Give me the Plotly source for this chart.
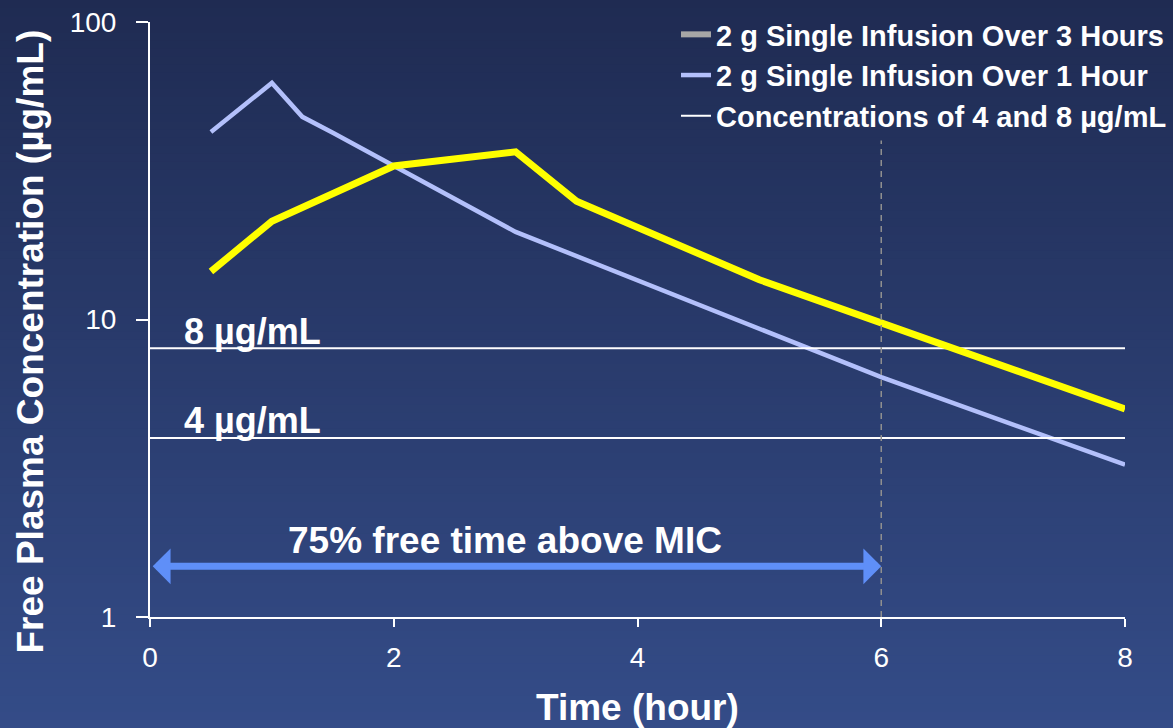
import math
import plotly.graph_objects as go

# Concentration-time profiles (hours, µg/mL)
time_3h = [0.5, 1.0, 2.0, 3.0, 3.5, 5.0, 8.0]
conc_3h = [14.5, 21.4, 32.8, 36.6, 25.0, 13.6, 5.0]

time_1h = [0.5, 1.0, 1.25, 1.5, 3.0, 6.0, 8.0]
conc_1h = [42.7, 62.4, 48.0, 42.4, 19.7, 6.4, 3.25]

# MIC reference levels
mic_levels = [8, 4]
mic_labels = ["8 µg/mL", "4 µg/mL"]
mic_span = [0, 8]

# Time above MIC marker
ft_mic_time = 6.0
ft_mic_top = 40
arrow_level = 1.48
arrow_start = 0.01
arrow_label = "75% free time above MIC"

x_ticks = [0, 2, 4, 6, 8]
y_ticks = [1, 10, 100]

FONT = "Liberation Sans, Arial, sans-serif"
WHITE = "#ffffff"

fig = go.Figure()

# legend proxy for the 3-hour infusion (grey swatch)
fig.add_trace(go.Scatter(
    x=[None], y=[None], mode="lines", name="2 g Single Infusion Over 3 Hours",
    line=dict(color="#a6a6a6", width=6), legendgroup="a",
))
fig.add_trace(go.Scatter(
    x=time_1h, y=conc_1h, mode="lines", name="2 g Single Infusion Over 1 Hour",
    line=dict(color="#b3c0fb", width=4.5), legendgroup="b",
))
mx, my = [], []
for lv in mic_levels:
    mx += [mic_span[0], mic_span[1], None]
    my += [lv, lv, None]
fig.add_trace(go.Scatter(
    x=mx, y=my, mode="lines", name="Concentrations of 4 and 8 µg/mL",
    line=dict(color=WHITE, width=2), legendgroup="c",
))
fig.add_trace(go.Scatter(
    x=time_3h, y=conc_3h, mode="lines", showlegend=False,
    line=dict(color="#ffff00", width=7),
))
fig.add_trace(go.Scatter(
    x=[ft_mic_time, ft_mic_time], y=[1, ft_mic_top], mode="lines", showlegend=False,
    line=dict(color="#8f8f8f", width=1.5, dash="6px,5px"),
))

# background gradient bands across the whole figure
W, H = 1173, 728
ml, mr, mt, mb = 150, 48, 22, 111
pw, ph = W - ml - mr, H - mt - mb
top_rgb = (31, 43, 82)
bot_rgb = (52, 76, 136)
n = 90
shapes = []
y_top = 1 + mt / ph
y_bot = -mb / ph
for i in range(n):
    f = (i + 0.5) / n
    c = tuple(round(top_rgb[k] + (bot_rgb[k] - top_rgb[k]) * f) for k in range(3))
    y1 = y_top - (y_top - y_bot) * i / n
    y0 = y_top - (y_top - y_bot) * (i + 1) / n - 0.002
    shapes.append(dict(
        type="rect", xref="paper", yref="paper", layer="below",
        x0=-ml / pw - 0.01, x1=1 + mr / pw + 0.01, y0=y0, y1=y1,
        line=dict(width=0), fillcolor="rgb(%d,%d,%d)" % c,
    ))

annotations = []
for lv, lab in zip(mic_levels, mic_labels):
    annotations.append(dict(
        x=0.26, y=math.log10(lv), xref="x", yref="y", text=lab, showarrow=False,
        xanchor="left", yanchor="middle", yshift=17,
        font=dict(family=FONT, size=36, color=WHITE, weight="bold"),
    ))
# double-headed arrow for time above MIC
annotations.append(dict(
    x=ft_mic_time, y=math.log10(arrow_level), ax=arrow_start, ay=math.log10(arrow_level),
    xref="x", yref="y", axref="x", ayref="y", text="", showarrow=True,
    arrowhead=1, arrowside="end+start", arrowwidth=7, arrowsize=0.85,
    arrowcolor="#5f8ff8",
))
annotations.append(dict(
    x=2.91, y=math.log10(arrow_level), xref="x", yref="y", text=arrow_label,
    showarrow=False, yanchor="middle", yshift=26,
    font=dict(family=FONT, size=37, color=WHITE, weight="bold"),
))
# axis titles
annotations.append(dict(
    x=0.5, y=-91 / ph, xref="paper", yref="paper", text="Time (hour)", showarrow=False,
    xanchor="center", yanchor="middle",
    font=dict(family=FONT, size=37, color=WHITE, weight="bold"),
))
annotations.append(dict(
    x=-120 / pw, y=0.5 - 22 / ph, xref="paper", yref="paper",
    text="Free Plasma Concentration (µg/mL)", showarrow=False, textangle=-90,
    xanchor="center", yanchor="middle",
    font=dict(family=FONT, size=37, color=WHITE, weight="bold"),
))

fig.update_layout(
    width=W, height=H,
    margin=dict(l=ml, r=mr, t=mt, b=mb, autoexpand=False),
    paper_bgcolor="rgba(0,0,0,0)",
    plot_bgcolor="rgba(0,0,0,0)",
    shapes=shapes,
    annotations=annotations,
    showlegend=True,
    legend=dict(
        x=1 + 47 / pw, y=1 + 13 / ph, xanchor="right", yanchor="top",
        bgcolor="rgba(0,0,0,0)", traceorder="grouped", tracegroupgap=0,
        font=dict(family=FONT, size=29, color=WHITE, weight="bold"),
        itemwidth=30,
    ),
    xaxis=dict(
        range=[0, 8], tickvals=x_ticks, ticktext=[str(v) for v in x_ticks],
        showgrid=False, zeroline=False, showline=True, linecolor=WHITE, linewidth=2,
        ticks="outside", ticklen=8, tickwidth=2, tickcolor=WHITE,
        ticklabelstandoff=6,
        tickfont=dict(family=FONT, size=28, color=WHITE),
    ),
    yaxis=dict(
        type="log", range=[0, 2], tickvals=y_ticks, ticktext=[str(v) for v in y_ticks],
        showgrid=False, zeroline=False, showline=True, linecolor=WHITE, linewidth=2,
        ticks="outside", ticklen=12, tickwidth=2, tickcolor=WHITE,
        ticklabelstandoff=14,
        tickfont=dict(family=FONT, size=28, color=WHITE),
    ),
)

fig.write_html("out.html")
